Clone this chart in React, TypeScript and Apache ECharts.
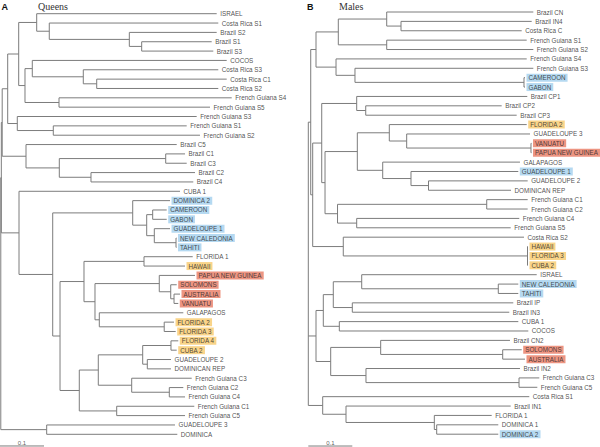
import React, { useEffect, useRef } from "react";
import * as echarts from "echarts";

// ---------- Panel A: Queens ----------
const queensLeaves = [
  "ISRAEL", "Costa Rica S1", "Brazil S2", "Brazil S1", "Brazil S3", "COCOS",
  "Costa Rica S3", "Costa Rica C1", "Costa Rica S2", "French Guiana S4", "French Guiana S5",
  "French Guiana S3", "French Guiana S1", "French Guiana S2", "Brazil C5", "Brazil C1",
  "Brazil C3", "Brazil C2", "Brazil C4", "CUBA 1", "DOMINICA 2", "CAMEROON", "GABON",
  "GUADELOUPE 1", "NEW CALEDONIA", "TAHITI", "FLORIDA 1", "HAWAII", "PAPUA NEW GUINEA",
  "SOLOMONS", "AUSTRALIA", "VANUATU", "GALAPAGOS", "FLORIDA 2", "FLORIDA 3", "FLORIDA 4",
  "CUBA 2", "GUADELOUPE 2", "DOMINICAN REP", "French Guiana C3", "French Guiana C2",
  "French Guiana C4", "French Guiana C1", "French Guiana C5", "GUADELOUPE 3", "DOMINICA",
];
// distance of each tip from the root
const queensLeafDepth = [
  0.4925, 0.4961, 0.4925, 0.4811, 0.4848, 0.5152, 0.4961, 0.5152, 0.4961, 0.5266, 0.4773,
  0.447, 0.4243, 0.4545, 0.4016, 0.4205, 0.4243, 0.4432, 0.4393, 0.4091, 0.3864, 0.3789,
  0.3789, 0.3864, 0.4011, 0.4011, 0.438, 0.4205, 0.4432, 0.4016, 0.4091, 0.4052, 0.4166,
  0.3955, 0.3993, 0.4052, 0.4016, 0.3886, 0.3886, 0.4357, 0.4166, 0.4205, 0.4416, 0.4205,
  0.3977, 0.403,
];
const queensHighlight = [
  "", "", "", "", "", "", "", "", "", "", "", "", "", "", "", "", "", "", "", "",
  "b", "b", "b", "b", "b", "b", "", "y", "r", "r", "r", "r", "", "y", "y", "y", "y",
  "", "", "", "", "", "", "", "", "",
];
// [clade id, children (tip index or clade id), node distance from root]
const queensClades: [string, (number | string)[], number][] = [
  ["brS13", [3, 4], 0.322],
  ["brS", [2, "brS13"], 0.2939],
  ["t1a2", [1, "brS"], 0.112],
  ["t1a", [0, "t1a2"], 0.0834],
  ["crC1S2", [7, 8], 0.2198],
  ["crS3", [6, "crC1S2"], 0.1893],
  ["cocos", [5, "crS3"], 0.0734],
  ["fgS45", [9, 10], 0.1341],
  ["t1b", ["cocos", "fgS45"], 0.0568],
  ["t1", ["t1a", "t1b"], 0.0425],
  ["fgS12", [12, 13], 0.1211],
  ["t2", [11, "fgS12"], 0.0393],
  ["t", ["t1", "t2"], 0.0175],
  ["brC13", [15, 16], 0.3766],
  ["brC24", [17, 18], 0.2068],
  ["brCin", ["brC13", "brC24"], 0.1348],
  ["brC", [14, "brCin"], 0.0591],
  ["n1a", ["t", "brC"], 0.005],
  ["camGab", [21, 22], 0.347],
  ["ncTah", [24, 25], 0.4],
  ["guad1", [23, "ncTah"], 0.3507],
  ["blueIn", ["camGab", "guad1"], 0.3334],
  ["blue", [20, "blueIn"], 0.3016],
  ["flHaw", [26, 27], 0.3273],
  ["ausVan", [30, 31], 0.3955],
  ["sol", [29, "ausVan"], 0.388],
  ["red", [28, "sol"], 0.362],
  ["fl23", [33, 34], 0.3732],
  ["gal", [32, "fl23"], 0.2257],
  ["s", ["red", "gal"], 0.2159],
  ["q", ["flHaw", "s"], 0.1909],
  ["fl4Cuba", [35, 36], 0.3886],
  ["g2Dr", [37, 38], 0.3348],
  ["v", ["fl4Cuba", "g2Dr"], 0.3243],
  ["fgC24", [40, 41], 0.3848],
  ["w", [39, "fgC24"], 0.2993],
  ["u", ["v", "w"], 0.2234],
  ["fgC15", [42, 43], 0.2652],
  ["r", ["u", "fgC15"], 0.1802],
  ["p", ["q", "r"], 0.1364],
  ["m", ["blue", "p"], 0.1198],
  ["l", [19, "m"], 0.0432],
  ["n1b", ["n1a", "l"], 0.003],
  ["g3Dom", [44, 45], 0.1061],
  ["root", ["n1b", "g3Dom"], 0.0018],
];

// ---------- Panel B: Males ----------
const malesLeaves = [
  "Brazil CN", "Brazil IN4", "Costa Rica C", "French Guiana S1", "French Guiana S2",
  "French Guiana S4", "French Guiana S3", "CAMEROON", "GABON", "Brazil CP1", "Brazil CP2",
  "Brazil CP3", "FLORIDA 2", "GUADELOUPE 3", "VANUATU", "PAPUA NEW GUINEA", "GALAPAGOS",
  "GUADELOUPE 1", "GUADELOUPE 2", "DOMINICAN REP", "French Guiana C1", "French Guiana C2",
  "French Guiana C4", "French Guiana S5", "Costa Rica S2", "HAWAII", "FLORIDA 3", "CUBA 2",
  "ISRAEL", "NEW CALEDONIA", "TAHITI", "Brazil IP", "Brazil IN3", "CUBA 1", "COCOS",
  "Brazil CN2", "SOLOMONS", "AUSTRALIA", "Brazil IN2", "French Guiana C3", "French Guiana C5",
  "Costa Rica S1", "Brazil IN1", "FLORIDA 1", "DOMINICA 1", "DOMINICA 2",
];
const malesLeafDepth = [
  0.5114, 0.5077, 0.485, 0.4964, 0.5114, 0.4964, 0.5114, 0.4925, 0.4925, 0.4977, 0.4395,
  0.4736, 0.4964, 0.5039, 0.5073, 0.5073, 0.4811, 0.4773, 0.4986, 0.4607, 0.4986, 0.4986,
  0.4795, 0.46, 0.4902, 0.4993, 0.4993, 0.4993, 0.5191, 0.4773, 0.4773, 0.4659, 0.4568,
  0.4773, 0.5, 0.4584, 0.485, 0.4925, 0.4811, 0.525, 0.5205, 0.5023, 0.46, 0.4168, 0.4318,
  0.4318,
];
const malesHighlight = [
  "", "", "", "", "", "", "", "b", "b", "", "", "", "y", "", "r", "r", "", "b", "", "",
  "", "", "", "", "", "y", "y", "y", "", "b", "b", "", "", "", "", "", "r", "r", "", "",
  "", "", "", "", "", "b",
];
const malesClades: [string, (number | string)[], number][] = [
  ["in4Crc", [1, 2], 0.2107],
  ["cn", [0, "in4Crc"], 0.1782],
  ["fgS12", [3, 4], 0.1782],
  ["a1a", ["cn", "fgS12"], 0.0682],
  ["camGab", [7, 8], 0.4902],
  ["s3", [6, "camGab"], 0.1061],
  ["a1b", [5, "s3"], 0.063],
  ["a1", ["a1a", "a1b"], 0.0175],
  ["cp23", [10, 11], 0.1305],
  ["cp", [9, "cp23"], 0.11],
  ["vanPng", [14, 15], 0.5061],
  ["g3", [13, "vanPng"], 0.2236],
  ["fl2", [12, "g3"], 0.1841],
  ["g2Dr", [18, 19], 0.2732],
  ["g1", [17, "g2Dr"], 0.2334],
  ["gal", [16, "g1"], 0.1691],
  ["a2c", ["fl2", "gal"], 0.1114],
  ["fgC12", [20, 21], 0.4055],
  ["fgC4S5", [22, 23], 0.11],
  ["fgC", ["fgC12", "fgC4S5"], 0.0664],
  ["a2b", ["a2c", "fgC"], 0.038],
  ["a2a", ["cp", "a2b"], 0.0305],
  ["hfc", [25, 26, 27], 0.4982],
  ["crS2", [24, "hfc"], 0.0795],
  ["a2", ["a2a", "crS2"], 0.01],
  ["a", ["a1", "a2"], 0.0055],
  ["ncTah", [29, 30], 0.4318],
  ["isr", [28, "ncTah"], 0.1214],
  ["ipIn3", [31, 32], 0.1],
  ["b1a", ["isr", "ipIn3"], 0.0568],
  ["cubaCocos", [33, 34], 0.0705],
  ["b1", ["b1a", "cubaCocos"], 0.0341],
  ["solAus", [36, 37], 0.4418],
  ["cn2", [35, "solAus"], 0.1645],
  ["fgC35", [39, 40], 0.4789],
  ["in2", [38, "fgC35"], 0.1311],
  ["b2", ["cn2", "in2"], 0.0509],
  ["b", ["b1", "b2"], 0.0175],
  ["dom12", [44, 45], 0.2918],
  ["fl1", [43, "dom12"], 0.2864],
  ["c2", [42, "fl1"], 0.0857],
  ["c", [41, "c2"], 0.0327],
  ["root", ["a", "b", "c"], 0],
];

const scaleBarValue = 0.1;
const scaleBarLabel = "0.1";
const panelTitles = ["Queens", "Males"];
const panelLetters = ["A", "B"];

const HL: Record<string, string> = { b: "#a3d0ee", r: "#e87a63", y: "#f8c96b" };
const LINE = "#7c7c7c";
const TEXT = "#222222";
const SANS = '"Liberation Sans", Arial, Helvetica, sans-serif';
const SERIF = '"Liberation Serif", "Times New Roman", serif';

function buildSegments(depths: number[], clades: [string, (number | string)[], number][]) {
  const pos = new Map<number | string, { x: number; y: number }>();
  depths.forEach((d, i) => pos.set(i, { x: d, y: i }));
  const segs: number[][] = [];
  for (const [id, kids, d] of clades) {
    const ps = kids.map((k) => pos.get(k)!);
    const y0 = ps[0].y;
    const y1 = ps[ps.length - 1].y;
    segs.push([d, y0, d, y1]);
    ps.forEach((p) => segs.push([d, p.y, p.x, p.y]));
    pos.set(id, { x: d, y: (y0 + y1) / 2 });
  }
  return segs;
}

function panelSeries(
  idx: number,
  leaves: string[],
  depths: number[],
  hl: string[],
  clades: [string, (number | string)[], number][],
  barY: number
) {
  const segs = buildSegments(depths, clades);
  segs.push([0, barY, scaleBarValue, barY]);
  const baseLabel = {
    show: true,
    position: "right",
    fontSize: 6.3,
    lineHeight: 7,
    fontFamily: SANS,
    color: TEXT,
  };
  return [
    {
      type: "custom",
      xAxisIndex: idx,
      yAxisIndex: idx,
      silent: true,
      clip: false,
      encode: { x: [0, 2], y: [1, 3] },
      data: segs,
      renderItem: (_p: any, api: any) => {
        const a = api.coord([api.value(0), api.value(1)]);
        const b = api.coord([api.value(2), api.value(3)]);
        return {
          type: "line",
          shape: { x1: a[0], y1: a[1], x2: b[0], y2: b[1] },
          style: { stroke: LINE, lineWidth: 1 },
        };
      },
    },
    {
      type: "scatter",
      xAxisIndex: idx,
      yAxisIndex: idx,
      silent: true,
      symbolSize: 0,
      clip: false,
      itemStyle: { color: TEXT },
      data: leaves.map((name, i) => {
        const h = hl[i];
        return {
          name,
          value: [depths[i], i],
          label: h
            ? { ...baseLabel, formatter: name, backgroundColor: HL[h], padding: [1, 2, 0, 2], distance: 1.5 }
            : { ...baseLabel, formatter: name, distance: 3.5 },
        };
      }),
      label: baseLabel,
    },
    {
      type: "scatter",
      xAxisIndex: idx,
      yAxisIndex: idx,
      silent: true,
      symbolSize: 0,
      clip: false,
      itemStyle: { color: "#333" },
      data: [{ name: scaleBarLabel, value: [scaleBarValue / 2, barY] }],
      label: {
        show: true,
        position: "top",
        distance: 0,
        formatter: scaleBarLabel,
        fontSize: 6,
        fontFamily: SANS,
        color: "#333",
      },
    },
  ];
}

export default function App() {
  const ref = useRef<HTMLDivElement>(null);
  useEffect(() => {
    if (!ref.current) return;
    const chart = echarts.init(ref.current, undefined, { renderer: "svg" });
    const xMax = 0.66;
    const pxPerUnit = 440;
    const option: any = {
      animation: false,
      backgroundColor: "#fff",
      grid: [
        { left: 0, top: 13.7, width: xMax * pxPerUnit, height: 420.6, outerBoundsMode: "none" },
        { left: 308.3, top: 12, width: xMax * pxPerUnit, height: 422.2, outerBoundsMode: "none" },
      ],
      xAxis: [0, 1].map((g) => ({ type: "value", gridIndex: g, min: 0, max: xMax, show: false })),
      yAxis: [0, 1].map((g) => ({ type: "value", gridIndex: g, min: 0, max: 45, inverse: true, show: false })),
      graphic: [
        { type: "text", x: 1.5, y: 6.5, style: { text: panelLetters[0], font: `bold 9px ${SANS}`, fill: "#111", verticalAlign: "middle" } },
        { type: "text", x: 38, y: 6.5, style: { text: panelTitles[0], font: `10px ${SERIF}`, fill: "#333", verticalAlign: "middle" } },
        { type: "text", x: 307, y: 6.5, style: { text: panelLetters[1], font: `bold 9px ${SANS}`, fill: "#111", verticalAlign: "middle" } },
        { type: "text", x: 339, y: 6.5, style: { text: panelTitles[1], font: `10px ${SERIF}`, fill: "#333", verticalAlign: "middle" } },
      ],
      series: [
        ...panelSeries(0, queensLeaves, queensLeafDepth, queensHighlight, queensClades, 46.25),
        ...panelSeries(1, malesLeaves, malesLeafDepth, malesHighlight, malesClades, 46.26),
      ],
    };
    chart.setOption(option);
    return () => chart.dispose();
  }, []);
  return (
    <div
      ref={ref}
      style={{ position: "fixed", left: 0, top: 0, width: 600, height: 447, background: "#fff" }}
    />
  );
}
